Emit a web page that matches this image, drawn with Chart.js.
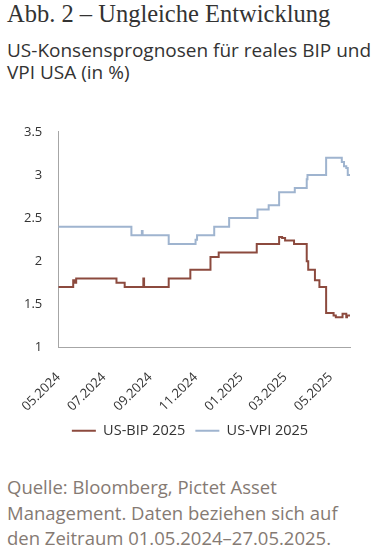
<!DOCTYPE html>
<html>
<head>
<meta charset="utf-8">
<script src="https://cdn.jsdelivr.net/npm/chart.js@4"></script>
<style>
  body { margin: 0; width: 376px; height: 552px; background: #fff; position: relative; overflow: hidden; }
  .title { position: absolute; left: 7px; top: 0px; margin: 0; font-family: "Liberation Serif", serif; font-weight: normal; font-size: 24.5px; color: #333; white-space: nowrap; }
  .subtitle { position: absolute; left: 7px; top: 39px; font-family: "Open Sans", sans-serif; font-size: 19px; line-height: 22px; color: #333; white-space: nowrap; }
  .chart-box { position: absolute; left: 0; top: 108px; width: 376px; height: 357px; }
  .source { position: absolute; left: 7px; top: 474px; font-family: "Open Sans", sans-serif; font-size: 18.5px; line-height: 25.5px; color: #857a73; white-space: nowrap; }
</style>
</head>
<body>
<div class="title">Abb. 2 – Ungleiche Entwicklung</div>
<div class="subtitle">US-Konsensprognosen für reales BIP und<br>VPI USA (in %)</div>
<div class="chart-box"><canvas id="chart"></canvas></div>
<div class="source">Quelle: Bloomberg, Pictet Asset<br>Management. Daten beziehen sich auf<br>den Zeitraum 01.05.2024–27.05.2025.</div>

<script>
// days counted from 01.05.2024
const monthTicks = [0, 61, 123, 184, 245, 304, 365];
const monthLabels = ['05.2024', '07.2024', '09.2024', '11.2024', '01.2025', '03.2025', '05.2025'];

// US-BIP 2025: change points (day, value)
const bipDays   = [0, 20, 22, 24, 78, 89, 114, 115, 148, 177, 204, 215, 266, 296, 300, 304, 316, 333, 335, 344, 350, 359, 369, 372, 381, 386, 387, 391];
const bipValues = [1.7, 1.78, 1.75, 1.8, 1.75, 1.7, 1.8, 1.7, 1.8, 1.9, 2.05, 2.1, 2.2, 2.28, 2.27, 2.24, 2.2, 2.0, 1.9, 1.78, 1.7, 1.4, 1.37, 1.35, 1.39, 1.35, 1.37, 1.37];

// US-VPI 2025
const vpiDays   = [0, 98, 112, 113, 148, 184, 186, 209, 229, 267, 282, 296, 317, 333, 334, 359, 380, 383, 386, 388, 391];
const vpiValues = [2.4, 2.3, 2.35, 2.3, 2.2, 2.25, 2.3, 2.4, 2.5, 2.6, 2.65, 2.8, 2.85, 2.95, 3.0, 3.2, 3.15, 3.1, 3.08, 3.0, 3.0];

const bipColor = '#8c4a3e';
const vpiColor = '#9fb4cf';

function toPoints(days, values) {
    return days.map((d, i) => ({ x: d, y: values[i] }));
}

// legend sits a bit right of the canvas centre in the original
const legendShift = {
    id: 'legendShift',
    afterLayout(chart) {
        chart.legend.left += 22;
    }
};

const ctx = document.getElementById('chart').getContext('2d');

new Chart(ctx, {
    type: 'line',
    data: {
        datasets: [{
            label: 'US-BIP 2025',
            data: toPoints(bipDays, bipValues),
            borderColor: bipColor,
            backgroundColor: bipColor,
            borderWidth: 2,
            pointRadius: 0,
            stepped: true
        }, {
            label: 'US-VPI 2025',
            data: toPoints(vpiDays, vpiValues),
            borderColor: vpiColor,
            backgroundColor: vpiColor,
            borderWidth: 2,
            pointRadius: 0,
            stepped: true
        }]
    },
    plugins: [legendShift],
    options: {
        responsive: true,
        maintainAspectRatio: false,
        animation: false,
        layout: { padding: { left: 8, right: 26, top: 12, bottom: 17 } },
        plugins: {
            tooltip: { enabled: false },
            legend: {
                position: 'bottom',
                labels: {
                    color: '#333',
                    font: { family: 'Open Sans', size: 14.5 },
                    boxWidth: 24,
                    boxHeight: 2,
                    padding: 10,
                    generateLabels: chart => Chart.defaults.plugins.legend.labels.generateLabels(chart)
                        .map(l => Object.assign(l, { lineWidth: 0 }))
                }
            }
        },
        scales: {
            x: {
                type: 'linear',
                min: 0,
                max: 391,
                afterBuildTicks: axis => {
                    axis.ticks = monthTicks.map(v => ({ value: v }));
                },
                // rotated labels reserve more room than they use
                afterFit: axis => {
                    axis.height -= 23;
                },
                ticks: {
                    autoSkip: false,
                    maxRotation: 45,
                    minRotation: 45,
                    padding: 22,
                    color: '#333',
                    font: { family: 'Open Sans', size: 13 },
                    callback: (value, index) => monthLabels[index]
                },
                grid: { display: false, drawTicks: false },
                border: { display: true, color: '#a6a6a6', width: 1 }
            },
            y: {
                min: 1,
                max: 3.5,
                ticks: {
                    stepSize: 0.5,
                    padding: 16,
                    color: '#333',
                    font: { family: 'Open Sans', size: 13 },
                    callback: value => String(Number(value.toFixed(1)))
                },
                grid: { display: false, drawTicks: false },
                border: { display: true, color: '#a6a6a6', width: 1 }
            }
        }
    }
});
</script>
</body>
</html>
